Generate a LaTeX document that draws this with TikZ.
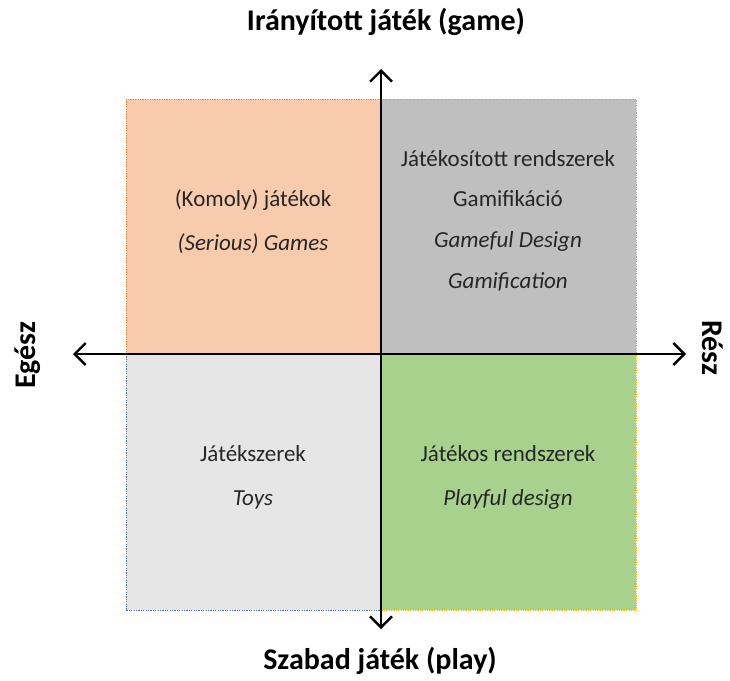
\documentclass[tikz,border=0pt]{standalone}
\usepackage{fontspec}
\setmainfont{Carlito}
\usetikzlibrary{arrows.meta}
\definecolor{qorange}{HTML}{F8CBAD}
\definecolor{qorangeline}{HTML}{ED7D31}
\definecolor{qgrey}{HTML}{BFBFBF}
\definecolor{qgreyline}{HTML}{A5A5A5}
\definecolor{qlight}{HTML}{E7E6E6}
\definecolor{qlightline}{HTML}{4472C4}
\definecolor{qgreen}{HTML}{A9D18E}
\definecolor{qgreenline}{HTML}{FFC000}
\definecolor{qtext}{HTML}{262626}
\begin{document}
\begin{tikzpicture}[x=1pt,y=-1pt,
  quad/.style={minimum width=255pt,minimum height=256pt,inner sep=0pt,
    line width=0.8pt,dash pattern=on 1.2pt off 1.2pt,anchor=north west},
  qlabel/.style={font=\fontsize{23}{26}\selectfont,text=qtext,anchor=base},
  axislabel/.style={font=\fontsize{30}{34}\selectfont\bfseries,text=black},
  axis/.style={line width=2.4pt,black,
    arrows={Straight Barb[length=11pt,width=22pt,line width=2.4pt]-Straight Barb[length=11pt,width=22pt,line width=2.4pt]}}]
\useasboundingbox (0,0) rectangle (730,680);

% the four quadrants
\node[quad,fill=qorange,draw=qorangeline] (tl) at (126,99) {};
\node[quad,fill=qgrey,draw=qgreyline] (tr) at (381,99) {};
\node[quad,fill=qlight,draw=qlightline] (bl) at (126,354) {};
\node[quad,fill=qgreen,draw=qgreenline] (br) at (381,354) {};

% quadrant texts
\node[qlabel] (t1) at (253,206) {(Komoly) játékok};
\node[qlabel] (t2) at (253,250) {\itshape (Serious) Games};
\node[qlabel] (g1) at (508,166) {Játékosított rendszerek};
\node[qlabel] (g2) at (508,206) {Gamifikáció};
\node[qlabel] (g3) at (508,247) {\itshape Gameful Design};
\node[qlabel] (g4) at (508,288) {\itshape Gamification};
\node[qlabel] (l1) at (253,461) {Játékszerek};
\node[qlabel] (l2) at (253,505) {\itshape Toys};
\node[qlabel] (r1) at (508,461) {Játékos rendszerek};
\node[qlabel] (r2) at (508,505) {\itshape Playful design};

% axes
\coordinate (top) at (381,69);
\coordinate (bottom) at (381,629);
\coordinate (left) at (73,354);
\coordinate (right) at (686,354);
\draw[axis] (bottom) -- (top);
\draw[axis] (left) -- (right);

% axis labels
\node[axislabel] (game) at (386,22) {Irányított játék (game)};
\node[axislabel] (play) at (380,661) {Szabad játék (play)};
\node[axislabel,rotate=90] (whole) at (28,355) {Egész};
\node[axislabel,rotate=-90] (part) at (713,348) {Rész};
\end{tikzpicture}
\end{document}
